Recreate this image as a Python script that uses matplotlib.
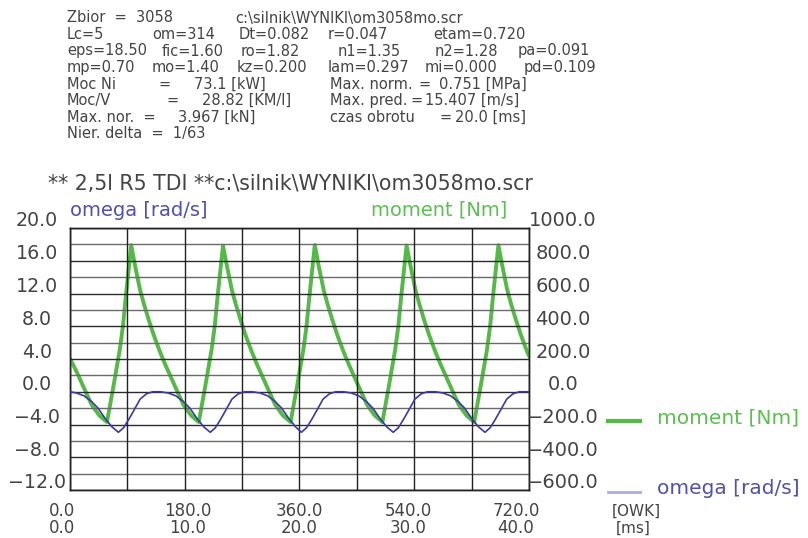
import matplotlib
matplotlib.use("Agg")
import matplotlib.pyplot as plt
import matplotlib.transforms as mtransforms

# ---------------- data ----------------
moment_deg = [0, 5, 13, 24, 34, 46, 58,
              68, 78, 83, 88, 96, 101, 106, 110, 116, 123, 131, 141, 149, 157, 168, 178, 190, 202,
              212, 222, 227, 232, 240, 245, 250, 254, 260, 267, 275, 285, 293, 301, 312, 322, 334, 346,
              356, 366, 371, 376, 384, 389, 394, 398, 404, 411, 419, 429, 437, 445, 456, 466, 478, 490,
              500, 510, 515, 520, 528, 533, 538, 542, 548, 555, 563, 573, 581, 589, 600, 610, 622, 634,
              644, 654, 659, 664, 672, 677, 682, 686, 692, 699, 707, 717, 720]
moment_nm = [200, 165, 100, 5, -80, -145, -185,
             30, 255, 400, 600, 895, 790, 695, 620, 535, 445, 350, 245, 170, 100, 5, -80, -145, -185,
             30, 255, 400, 600, 892, 790, 695, 620, 535, 445, 350, 245, 170, 100, 5, -80, -145, -185,
             30, 255, 400, 600, 896, 790, 695, 620, 535, 445, 350, 245, 170, 100, 5, -80, -145, -185,
             30, 255, 400, 600, 893, 790, 695, 620, 535, 445, 350, 245, 170, 100, 5, -80, -145, -185,
             30, 255, 400, 600, 895, 790, 695, 620, 535, 445, 350, 245, 220]

omega_deg = [0, 10, 22, 34, 44, 55, 66,
             76, 84, 92, 100, 110, 120, 130, 142, 154, 166, 178, 188, 199, 210,
             220, 228, 236, 244, 254, 264, 274, 286, 298, 310, 322, 332, 343, 354,
             363, 371, 379, 387, 397, 407, 417, 429, 441, 453, 465, 475, 486, 497,
             507, 515, 523, 531, 541, 551, 561, 573, 585, 597, 609, 619, 630, 641,
             651, 659, 667, 675, 685, 695, 705, 717, 720]
omega_rad = [0.0, -0.15, -0.5, -1.2, -2.0, -3.25, -4.3,
             -4.95, -4.4, -3.4, -2.3, -0.9, -0.25, 0.0, 0.0, -0.15, -0.5, -1.2, -2.0, -3.25, -4.3,
             -4.95, -4.4, -3.4, -2.3, -0.9, -0.25, 0.0, 0.0, -0.15, -0.5, -1.2, -2.0, -3.25, -4.3,
             -4.95, -4.4, -3.4, -2.3, -0.9, -0.25, 0.0, 0.0, -0.15, -0.5, -1.2, -2.0, -3.25, -4.3,
             -4.95, -4.4, -3.4, -2.3, -0.9, -0.25, 0.0, 0.0, -0.15, -0.5, -1.2, -2.0, -3.25, -4.3,
             -4.95, -4.4, -3.4, -2.3, -0.9, -0.25, 0.0, 0.0, 0.0]

left_ticks = [20.0, 16.0, 12.0, 8.0, 4.0, 0.0, -4.0, -8.0, -12.0]
right_ticks = [1000.0, 800.0, 600.0, 400.0, 200.0, 0.0, -200.0, -400.0, -600.0]
x_ticks_deg = [0.0, 180.0, 360.0, 540.0, 720.0]
x_ticks_ms = [0.0, 10.0, 20.0, 30.0, 40.0]

header_items = [
    # (x_px, line_index, text)
    (67, 0, "Zbior  =  3058"), (235, 0, "c:\\silnik\\WYNIKI\\om3058mo.scr"),
    (67, 1, "Lc=5"), (152, 1, "om=314"), (239, 1, "Dt=0.082"), (328, 1, "r=0.047"), (433, 1, "etam=0.720"),
    (67, 2, "eps=18.50"), (162, 2, "fic=1.60"), (241, 2, "ro=1.82"), (338, 2, "n1=1.35"), (435, 2, "n2=1.28"), (518, 2, "pa=0.091"),
    (67, 3, "mp=0.70"), (152, 3, "mo=1.40"), (237, 3, "kz=0.200"), (328, 3, "lam=0.297"), (425, 3, "mi=0.000"), (524, 3, "pd=0.109"),
    (67, 4, "Moc Ni"), (158, 4, "="), (194, 4, "73.1 [kW]"), (330, 4, "Max. norm."), (419, 4, "="), (439, 4, "0.751 [MPa]"),
    (67, 5, "Moc/V"), (166, 5, "="), (202, 5, "28.82 [KM/l]"), (330, 5, "Max. pred."), (411, 5, "="), (425, 5, "15.407 [m/s]"),
    (67, 6, "Max. nor.  ="), (178, 6, "3.967 [kN]"), (330, 6, "czas obrotu"), (439, 6, "="), (455, 6, "20.0 [ms]"),
    (67, 7, "Nier. delta  =  1/63"),
]

title = "** 2,5l R5 TDI **c:\\silnik\\WYNIKI\\om3058mo.scr"

# ---------------- figure ----------------
W, H = 808, 538
fig = plt.figure(figsize=(W / 100, H / 100), dpi=100)
fig.patch.set_facecolor("white")

L, R, T, B = 70, 529, 228, 490
ax = fig.add_axes([L / W, 1 - B / H, (R - L) / W, (B - T) / H])
ax2 = ax.twinx()

TXT = "#444444"
GREEN = "#55b947"
BLUE = "#3a3aa0"

ax.set_xlim(0, 720)
ax.set_ylim(-12, 20)
ax2.set_ylim(-600, 1000)

# grid
for v in range(-12, 21, 2):
    ax.axhline(v, color="#2a2a2a" if v % 4 == 0 else "#6a6a6a", lw=1.0, zorder=1)
for d in range(0, 721, 90):
    ax.axvline(d, color="#222222", lw=1.0, zorder=1)

for a in (ax, ax2):
    a.set_xticks([])
    a.set_yticks([])
    for s in a.spines.values():
        s.set_color("#222222")
        s.set_linewidth(1.0)

ax2.plot(moment_deg, moment_nm, color=GREEN, lw=2.8, zorder=3, solid_joinstyle="round")
ax.plot(omega_deg, omega_rad, color=BLUE, lw=1.2, zorder=4)
ax.set_zorder(ax2.get_zorder() + 1)
ax.patch.set_visible(False)

# tick labels (drawn as text)
up = mtransforms.ScaledTranslation(0, 7 / 100, fig.dpi_scale_trans)
tl = mtransforms.blended_transform_factory(fig.transFigure, ax.transData) + up
for v in left_ticks:
    fig.text(37 / W, v, f"{v:.1f}".replace("-", "\u2212"), transform=tl,
             ha="center", va="center", fontsize=13.7, color=TXT)
tr = mtransforms.blended_transform_factory(fig.transFigure, ax2.transData) + up
for v in right_ticks:
    fig.text(563 / W, v, f"{v:.1f}".replace("-", "\u2212"), transform=tr,
             ha="center", va="center", fontsize=14, color=TXT)

tx = mtransforms.blended_transform_factory(ax.transData, fig.transFigure)
shifts = [-8, 3, 0, -6, -13]
for d, m, s in zip(x_ticks_deg, x_ticks_ms, shifts):
    off = mtransforms.ScaledTranslation(s / 100, 0, fig.dpi_scale_trans)
    fig.text(d, 1 - 511 / H, f"{d:.1f}", transform=tx + off, ha="center", va="center",
             fontsize=12, color=TXT)
    fig.text(d, 1 - 528 / H, f"{m:.1f}", transform=tx + off, ha="center", va="center",
             fontsize=12, color=TXT)
fig.text(612 / W, 1 - 511 / H, "[OWK]", ha="left", va="center", fontsize=11, color=TXT)
fig.text(616 / W, 1 - 528 / H, "[ms]", ha="left", va="center", fontsize=11, color=TXT)

# series labels above plot
fig.text(70 / W, 1 - 210 / H, "omega [rad/s]", ha="left", va="center", fontsize=14, color="#5050b0")
fig.text(507 / W, 1 - 210 / H, "moment [Nm]", ha="right", va="center", fontsize=14, color="#5cbf50")

# legend on the right
fig.add_artist(plt.Line2D([608 / W, 640 / W], [1 - 421 / H, 1 - 421 / H], color=GREEN, lw=3.0))
fig.text(657 / W, 1 - 418 / H, "moment [Nm]", ha="left", va="center", fontsize=14.5, color="#5cbf50")
fig.add_artist(plt.Line2D([608 / W, 640 / W], [1 - 492 / H, 1 - 492 / H], color="#a8aee0", lw=2.0))
fig.text(657 / W, 1 - 488 / H, "omega [rad/s]", ha="left", va="center", fontsize=14.5, color="#5050b0")

# title
fig.text(48 / W, 1 - 184 / H, title, ha="left", va="center", fontsize=14.8, color=TXT)

# header block
for x, li, t in header_items:
    fig.text(x / W, 1 - (18 + 16.5 * li) / H, t, ha="left", va="center", fontsize=10.5, color=TXT)

fig.savefig("out.png", dpi=100, facecolor="white")
